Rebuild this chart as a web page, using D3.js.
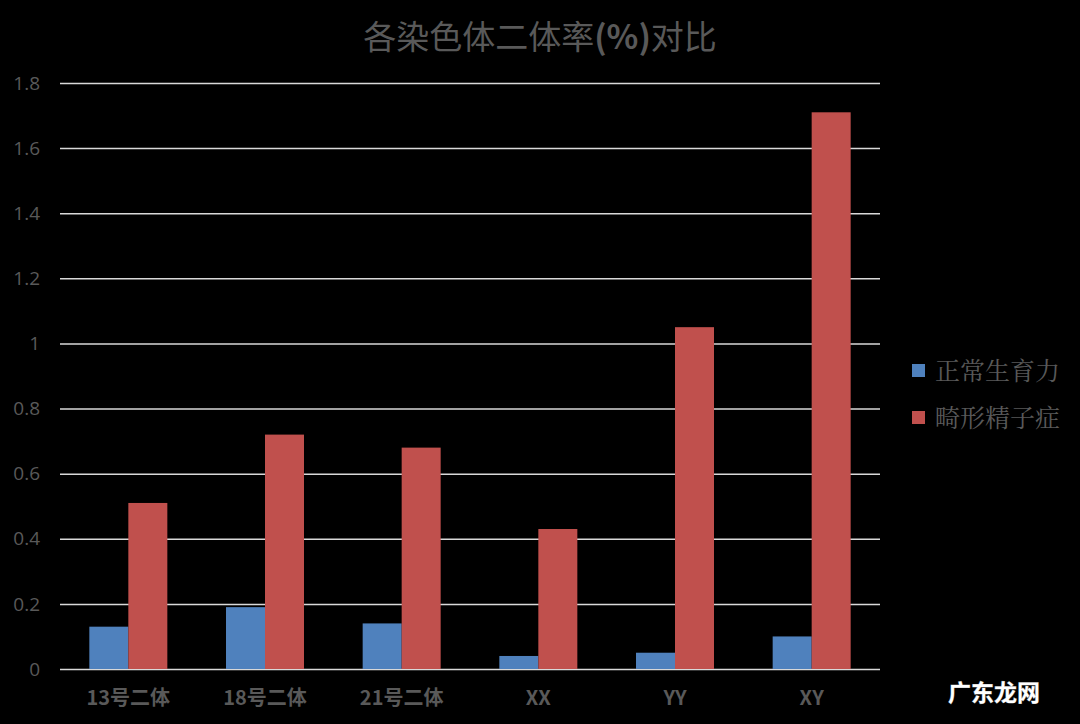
<!DOCTYPE html>
<html><head><meta charset="utf-8">
<script src="https://cdn.jsdelivr.net/npm/d3@7/dist/d3.min.js"></script>
<style>body{margin:0;background:#000;}svg{display:block;}</style>
</head><body>
<script>
const categories = ["13号二体","18号二体","21号二体","XX","YY","XY"];
const seriesNames = ["正常生育力","畸形精子症"];
const normalValues = [0.13,0.19,0.14,0.04,0.05,0.10];
const teratoValues = [0.51,0.72,0.68,0.43,1.05,1.71];
const yTicks = [0,0.2,0.4,0.6,0.8,1,1.2,1.4,1.6,1.8];
const colors = ["#4f81bd","#c0504d"];

const W=1080,H=724;
const svg=d3.select("body").append("svg").attr("width",W).attr("height",H);
svg.append("rect").attr("width",W).attr("height",H).attr("fill","#000");
const m={left:60,right:880,top:83,bottom:669};
const x=d3.scaleBand().domain(categories).range([m.left,m.right]).paddingInner(0).paddingOuter(0);
const y=d3.scaleLinear().domain([0,1.8]).range([m.bottom,m.top]);
const x1=d3.scaleBand().domain(seriesNames).range([0,78]);
const font="'Noto Sans CJK SC','Noto Sans',sans-serif";

// gridlines
svg.append("g").selectAll("line").data(yTicks).join("line")
 .attr("x1",m.left).attr("x2",m.right)
 .attr("y1",d=>y(d)+0.5).attr("y2",d=>y(d)+0.5)
 .attr("stroke","#d9d9d9").attr("stroke-width",1.5);
// y labels
svg.append("g").selectAll("text").data(yTicks).join("text")
 .attr("x",40).attr("y",d=>y(d)).attr("dy","0.35em").attr("text-anchor","end")
 .attr("fill","#595959").attr("font-family","'Open Sans','Liberation Sans',sans-serif").attr("font-size",19)
 .text(d=>d3.format("")(d));

const data=categories.map((c,i)=>({c,vals:[normalValues[i],teratoValues[i]]}));
const g=svg.append("g");
data.forEach(d=>{
  const cx=x(d.c)+x.bandwidth()/2-39;
  g.selectAll(null).data(d.vals.map((v,j)=>({v,s:seriesNames[j],j}))).join("rect")
   .attr("x",e=>cx+x1(e.s)).attr("width",x1.bandwidth())
   .attr("y",e=>y(e.v)).attr("height",e=>y(0)-y(e.v))
   .attr("fill",e=>colors[e.j]);
});
// x labels
svg.append("g").selectAll("text").data(categories).join("text")
 .attr("x",d=>x(d)+x.bandwidth()/2).attr("y",698).attr("dy","0.35em").attr("text-anchor","middle")
 .attr("fill","#595959").attr("font-family",font).attr("font-weight","bold").attr("font-size",20)
 .text(d=>d);
// title
const t=svg.append("text").attr("x",540).attr("y",37).attr("dy","0.35em").attr("text-anchor","middle")
 .attr("fill","#595959").attr("font-family",font).attr("font-size",33);
t.append("tspan").text("各染色体二体率");
t.append("tspan").attr("font-weight","bold").text("(%)");
t.append("tspan").text("对比");
// legend
const lg=svg.append("g");
seriesNames.forEach((s,i)=>{
  const yy=371+i*47;
  lg.append("rect").attr("x",912).attr("y",yy-7).attr("width",13).attr("height",13).attr("fill",colors[i]);
  lg.append("text").attr("x",935).attr("y",yy).attr("dy","0.35em").attr("fill","#595959")
   .attr("font-family","'Noto Serif CJK SC','Noto Sans CJK SC',serif").attr("font-size",25).text(s);
});
// watermark
svg.append("text").attr("x",994).attr("y",693).attr("dy","0.35em").attr("text-anchor","middle")
 .attr("fill","#fff").attr("font-family",font).attr("font-size",23).attr("font-weight","bold")
 .attr("stroke","#666").attr("stroke-width",0.8).attr("paint-order","stroke").text("广东龙网");
</script>
</body></html>
